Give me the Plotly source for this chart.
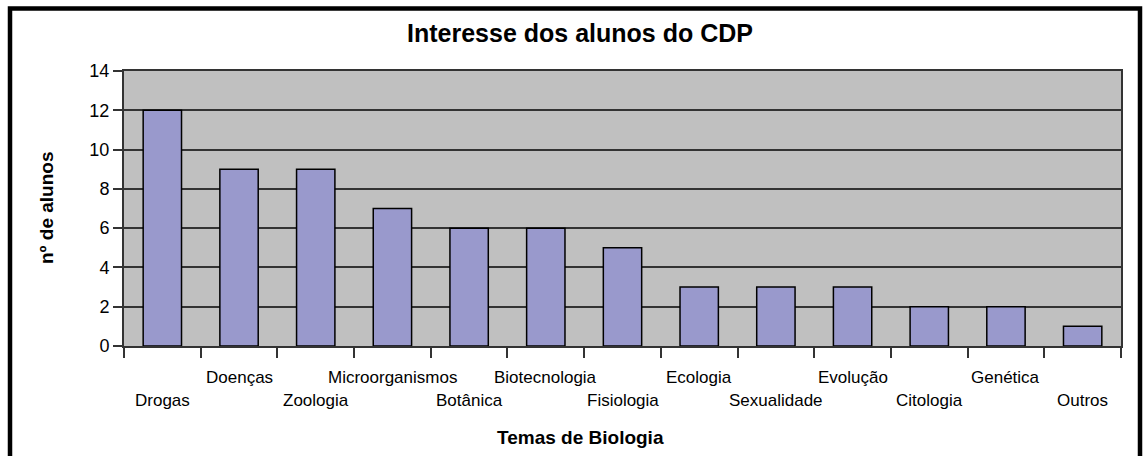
import plotly.graph_objects as go

categories = ["Drogas", "Doenças", "Zoologia", "Microorganismos", "Botânica",
              "Biotecnologia", "Fisiologia", "Ecologia", "Sexualidade", "Evolução",
              "Citologia", "Genética", "Outros"]
values = [12, 9, 9, 7, 6, 6, 5, 3, 3, 3, 2, 2, 1]
y_ticks = [0, 2, 4, 6, 8, 10, 12, 14]
title_text = "Interesse dos alunos do CDP"
x_title = "Temas de Biologia"
y_title = "nº de alunos"

FONT = "Liberation Sans, Arial, sans-serif"
W, H = 1143, 456
L, R, T, B = 124, 22, 71, 110
pw, ph = W - L - R, H - T - B

def px_x(p):
    return (p - L) / pw

def px_y(p):
    return (H - B - p) / ph

fig = go.Figure()
fig.add_trace(go.Bar(
    x=categories, y=values, width=0.5,
    marker=dict(color="#9999CC", line=dict(color="black", width=1.5)),
    hoverinfo="skip",
))

annotations = []
for i, c in enumerate(categories):
    row_y = 377 if i % 2 == 1 else 400
    annotations.append(dict(
        x=c, y=px_y(row_y), xref="x", yref="paper", text=c, showarrow=False,
        xanchor="center", yanchor="middle", font=dict(family=FONT, size=17, color="black"),
    ))
annotations.append(dict(
    x=px_x(580), y=px_y(33), xref="paper", yref="paper", text="<b>" + title_text + "</b>",
    showarrow=False, xanchor="center", yanchor="middle",
    font=dict(family=FONT, size=25, color="black"),
))
annotations.append(dict(
    x=px_x(580), y=px_y(437), xref="paper", yref="paper", text="<b>" + x_title + "</b>",
    showarrow=False, xanchor="center", yanchor="middle",
    font=dict(family=FONT, size=19, color="black"),
))
annotations.append(dict(
    x=px_x(46), y=px_y(208), xref="paper", yref="paper", text="<b>" + y_title + "</b>",
    showarrow=False, xanchor="center", yanchor="middle", textangle=-90,
    font=dict(family=FONT, size=19, color="black"),
))

shapes = [dict(
    type="rect", xref="paper", yref="paper",
    x0=px_x(10), x1=px_x(1140), y0=px_y(475), y1=px_y(8.5),
    line=dict(color="black", width=4.5), fillcolor="rgba(0,0,0,0)", layer="above",
)]

fig.update_layout(
    width=W, height=H,
    margin=dict(l=L, r=R, t=T, b=B),
    paper_bgcolor="white", plot_bgcolor="#C0C0C0",
    showlegend=False, bargap=0.5,
    annotations=annotations, shapes=shapes,
    font=dict(family=FONT, color="black"),
    xaxis=dict(
        type="category", tickson="boundaries", ticks="outside", ticklen=10,
        tickcolor="#333333", tickwidth=2, showticklabels=False, showgrid=False,
        showline=True, linecolor="#333333", linewidth=2, mirror=True,
    ),
    yaxis=dict(
        range=[0, 14], tickvals=y_ticks, ticks="outside", ticklen=9,
        tickcolor="#333333", tickwidth=2, showgrid=True, gridcolor="#333333", gridwidth=1.5,
        showline=True, linecolor="#333333", linewidth=2, mirror=True,
        tickfont=dict(family=FONT, size=18, color="black"), zeroline=False,
    ),
)

fig.write_html(
    "out.html",
    config={"displayModeBar": False},
    post_script="document.body.style.margin='0px';document.body.style.overflow='hidden';",
)
